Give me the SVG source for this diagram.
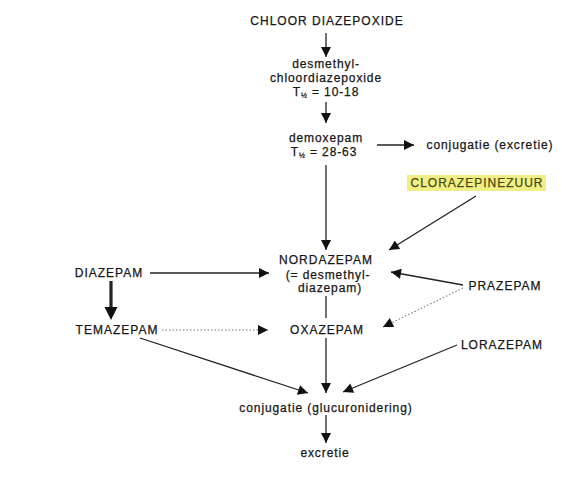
<svg xmlns="http://www.w3.org/2000/svg" width="571" height="483" viewBox="0 0 571 483">
<style>
text{font-family:"Liberation Sans",Arial,sans-serif;font-size:12px;fill:#161616;stroke:#161616;stroke-width:0.25;text-anchor:middle}
.cap{letter-spacing:1px}
.lc{letter-spacing:0.9px}
.ln{stroke:#222;stroke-width:1.3;fill:none}
.dot{stroke:#777;stroke-width:1.1;stroke-dasharray:1.5 2;fill:none}
.thick{stroke:#222;stroke-width:3.2;fill:none}
</style>
<defs>
<marker id="ah" viewBox="0 0 10 10" refX="10" refY="5" markerWidth="11" markerHeight="10" markerUnits="userSpaceOnUse" orient="auto">
<path d="M0,0 L10,5 L0,10 z" fill="#111"/>
</marker>
</defs>
<rect width="571" height="483" fill="#fff"/>
<g id="connectors">
<line class="ln" x1="326" y1="33" x2="326" y2="57" marker-end="url(#ah)"/>
<line class="ln" x1="326" y1="102" x2="326" y2="123" marker-end="url(#ah)"/>
<line class="ln" x1="377" y1="145" x2="414" y2="145" marker-end="url(#ah)"/>
<line class="ln" x1="326" y1="165" x2="326" y2="250" marker-end="url(#ah)"/>
<line class="ln" x1="476" y1="196" x2="389" y2="250" marker-end="url(#ah)"/>
<line class="ln" x1="150" y1="273" x2="269" y2="273" marker-end="url(#ah)"/>
<line class="thick" x1="111" y1="281" x2="111" y2="308"/>
<path d="M104.5,307 L117.5,307 L111,320 z" fill="#111"/>
<line class="dot" x1="162" y1="330" x2="268" y2="330" marker-end="url(#ah)"/>
<line class="ln" x1="326" y1="296" x2="326" y2="318"/>
<line class="ln" x1="463" y1="285" x2="391" y2="272" marker-end="url(#ah)"/>
<line class="dot" x1="463" y1="288" x2="383" y2="327" marker-end="url(#ah)"/>
<line class="ln" x1="140" y1="338" x2="308" y2="393" marker-end="url(#ah)"/>
<line class="ln" x1="326" y1="338" x2="326" y2="393" marker-end="url(#ah)"/>
<line class="ln" x1="457" y1="345" x2="343" y2="392" marker-end="url(#ah)"/>
<line class="ln" x1="326" y1="415" x2="326" y2="443" marker-end="url(#ah)"/>
</g>
<g id="chloordiazepoxide"><text class="cap" x="327" y="25">CHLOOR DIAZEPOXIDE</text></g>
<g id="desmethylchloordiazepoxide">
<text class="lc" x="326" y="68">desmethyl-</text>
<text class="lc" x="326" y="82">chloordiazepoxide</text>
<text class="lc" x="326" y="96">T<tspan font-size="7" dy="2">½</tspan><tspan dy="-2"> = 10-18</tspan></text>
</g>
<g id="demoxepam">
<text class="lc" x="326" y="142">demoxepam</text>
<text class="lc" x="324" y="156">T<tspan font-size="7" dy="2">½</tspan><tspan dy="-2"> = 28-63</tspan></text>
</g>
<g id="conjugatie-excretie"><text class="lc" x="490" y="149">conjugatie (excretie)</text></g>
<g id="clorazepinezuur">
<rect x="407" y="175" width="139" height="16" fill="#f0ef86"/>
<text class="cap" x="477" y="187" style="fill:#4a4a12;stroke:#4a4a12">CLORAZEPINEZUUR</text>
</g>
<g id="nordazepam">
<text class="cap" x="326" y="264">NORDAZEPAM</text>
<text class="lc" x="328" y="279">(= desmethyl-</text>
<text class="lc" x="330" y="292">diazepam)</text>
</g>
<g id="diazepam"><text class="cap" x="109" y="277">DIAZEPAM</text></g>
<g id="temazepam"><text class="cap" x="117" y="334">TEMAZEPAM</text></g>
<g id="oxazepam"><text class="cap" x="327" y="334">OXAZEPAM</text></g>
<g id="prazepam"><text class="cap" x="505" y="290">PRAZEPAM</text></g>
<g id="lorazepam"><text class="cap" x="502" y="349">LORAZEPAM</text></g>
<g id="conjugatie-glucuronidering"><text class="lc" x="326" y="412">conjugatie (glucuronidering)</text></g>
<g id="excretie"><text class="lc" x="325" y="457">excretie</text></g>
</svg>
